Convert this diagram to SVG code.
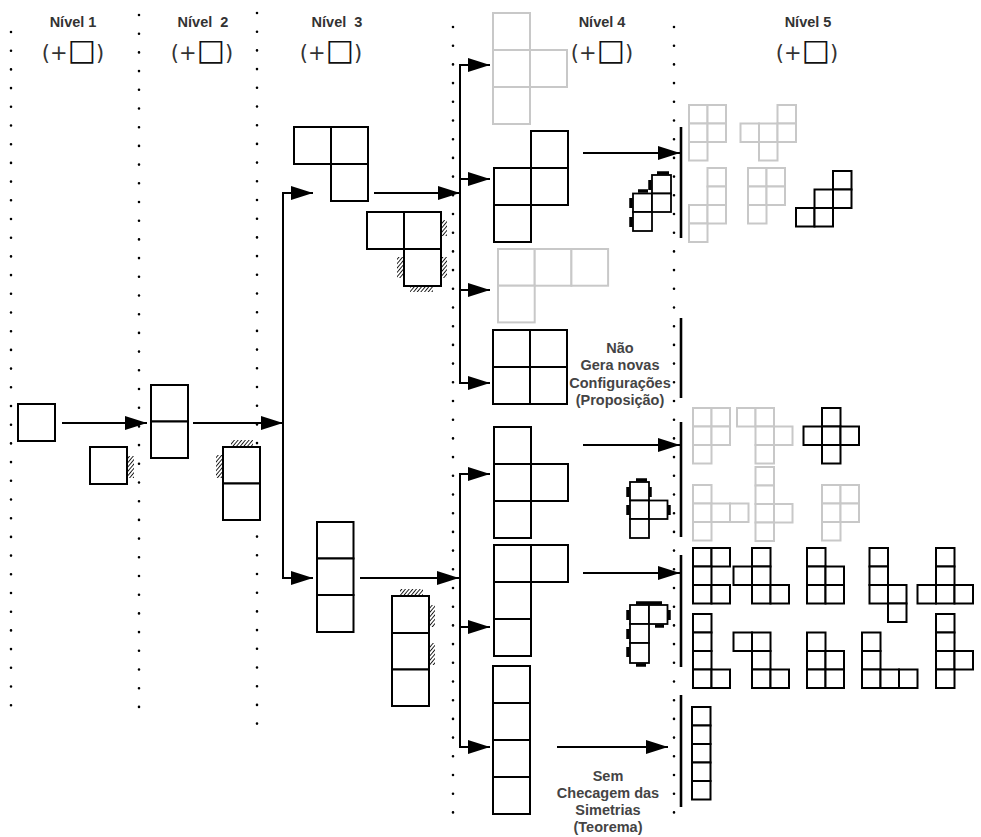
<svg xmlns="http://www.w3.org/2000/svg" width="981" height="837" viewBox="0 0 981 837">
<defs>
<style>
.dot{stroke:#000;stroke-width:2.6;stroke-linecap:round;stroke-dasharray:0 18.7;fill:none}
.c{fill:#fff;stroke:#000;stroke-width:2}
.g{fill:#fff;stroke:#c8c8c8;stroke-width:2}
.s{fill:#fff;stroke:#000;stroke-width:1.8}
.ln{stroke:#000;stroke-width:2;fill:none}
.bar{stroke:#000;stroke-width:2.6;fill:none}
.hd{font-family:"Liberation Sans",Arial,sans-serif;font-weight:bold;font-size:14.5px;fill:#333;text-anchor:middle}
.pl{font-family:"DejaVu Sans",sans-serif;font-size:21px;fill:#333;text-anchor:middle}
.bx{font-size:30px;fill:#111}
.nt{font-family:"Liberation Sans",Arial,sans-serif;font-weight:bold;font-size:14.5px;fill:#444;text-anchor:middle}
.hk{fill:url(#hatch)}
.mk{stroke:#000;stroke-width:3.5;fill:none}
</style>
<pattern id="hatch" patternUnits="userSpaceOnUse" width="2.8" height="2.8" patternTransform="rotate(40)">
<line x1="0" y1="0" x2="0" y2="2.8" stroke="#000" stroke-width="1.7"/>
</pattern>
<marker id="ah" markerUnits="userSpaceOnUse" markerWidth="24" markerHeight="16" refX="22" refY="7" orient="auto">
<path d="M0,0 L22,7 L0,14 Z" fill="#000"/>
</marker>
</defs>

<g id="guides">
<line class="dot" x1="11" y1="32" x2="11" y2="722"/>
<line class="dot" x1="139" y1="15" x2="139" y2="725"/>
<line class="dot" x1="257" y1="13" x2="257" y2="725"/>
<line class="dot" x1="453" y1="27" x2="453" y2="815"/>
<line class="dot" x1="674" y1="27" x2="674" y2="820"/>
</g>

<g id="headers">
<text class="hd" x="73" y="27">Nível 1</text>
<text class="hd" x="203" y="27" xml:space="preserve">Nível  2</text>
<text class="hd" x="337" y="27" xml:space="preserve">Nível  3</text>
<text class="hd" x="602" y="27">Nível 4</text>
<text class="hd" x="808" y="27">Nível 5</text>
<text class="pl" x="73" y="60">(+<tspan class="bx">□</tspan>)</text>
<text class="pl" x="202" y="60">(+<tspan class="bx">□</tspan>)</text>
<text class="pl" x="331" y="60">(+<tspan class="bx">□</tspan>)</text>
<text class="pl" x="602" y="60">(+<tspan class="bx">□</tspan>)</text>
<text class="pl" x="807" y="60">(+<tspan class="bx">□</tspan>)</text>
</g>

<g id="connectors">
<line class="ln" x1="62" y1="423" x2="147" y2="423" marker-end="url(#ah)"/>
<line class="ln" x1="193" y1="423" x2="283" y2="423" marker-end="url(#ah)"/>
<polyline class="ln" points="313,193 283,193 283,578 313,578"/>
<line class="ln" x1="283" y1="193" x2="313" y2="193" marker-end="url(#ah)"/>
<line class="ln" x1="283" y1="578" x2="313" y2="578" marker-end="url(#ah)"/>
<line class="ln" x1="374" y1="193" x2="460" y2="193" marker-end="url(#ah)"/>
<line class="ln" x1="360" y1="578" x2="459" y2="578" marker-end="url(#ah)"/>
<line class="ln" x1="460" y1="65" x2="460" y2="384"/>
<line class="ln" x1="459" y1="65" x2="490" y2="65" marker-end="url(#ah)"/>
<line class="ln" x1="459" y1="179" x2="490" y2="179" marker-end="url(#ah)"/>
<line class="ln" x1="459" y1="290" x2="490" y2="290" marker-end="url(#ah)"/>
<line class="ln" x1="459" y1="383" x2="490" y2="383" marker-end="url(#ah)"/>
<line class="ln" x1="460" y1="474" x2="460" y2="748"/>
<line class="ln" x1="459" y1="474" x2="490" y2="474" marker-end="url(#ah)"/>
<line class="ln" x1="459" y1="627" x2="490" y2="627" marker-end="url(#ah)"/>
<line class="ln" x1="459" y1="747" x2="490" y2="747" marker-end="url(#ah)"/>
<line class="ln" x1="583" y1="153" x2="680" y2="153" marker-end="url(#ah)"/>
<line class="ln" x1="583" y1="445" x2="680" y2="445" marker-end="url(#ah)"/>
<line class="ln" x1="583" y1="573" x2="680" y2="573" marker-end="url(#ah)"/>
<line class="ln" x1="557" y1="747" x2="668" y2="747" marker-end="url(#ah)"/>
<line class="bar" x1="681" y1="127" x2="681" y2="238"/>
<line class="bar" x1="681" y1="318" x2="681" y2="398"/>
<line class="bar" x1="681" y1="422" x2="681" y2="537"/>
<line class="bar" x1="681" y1="555" x2="681" y2="667"/>
<line class="bar" x1="681" y1="695" x2="681" y2="807"/>
</g>

<g id="n1">
<rect class="c" x="18" y="404" width="37" height="37"/>
</g>
<g id="n1h">
<rect class="hk" x="127" y="456" width="7" height="22"/>
<rect class="c" x="90" y="447" width="37" height="37"/>
</g>

<g id="n2">
<rect class="c" x="151" y="385" width="37" height="36.5"/>
<rect class="c" x="151" y="421.5" width="37" height="36.5"/>
</g>
<g id="n2h">
<rect class="hk" x="231" y="440" width="22" height="7"/>
<rect class="hk" x="216" y="455" width="7" height="23"/>
<rect class="c" x="223" y="447" width="37" height="36.5"/>
<rect class="c" x="223" y="483.5" width="37" height="36.5"/>
</g>

<g id="n3a">
<rect class="c" x="294" y="127" width="37" height="37"/>
<rect class="c" x="331" y="127" width="37" height="37"/>
<rect class="c" x="331" y="164" width="37" height="37"/>
</g>
<g id="n3ah">
<rect class="hk" x="441" y="220" width="6" height="16"/>
<rect class="hk" x="397" y="257" width="7" height="21"/>
<rect class="hk" x="441" y="257" width="6" height="21"/>
<rect class="hk" x="410" y="286" width="23" height="6"/>
<rect class="c" x="367" y="212" width="37" height="37"/>
<rect class="c" x="404" y="212" width="37" height="37"/>
<rect class="c" x="404" y="249" width="37" height="37"/>
</g>

<g id="n3b">
<rect class="c" x="317" y="522" width="36.5" height="36.5"/>
<rect class="c" x="317" y="558.5" width="36.5" height="36.5"/>
<rect class="c" x="317" y="595" width="36.5" height="37"/>
</g>
<g id="n3bh">
<rect class="hk" x="400" y="589" width="23" height="7"/>
<rect class="hk" x="429" y="605" width="6" height="22"/>
<rect class="hk" x="429" y="643" width="6" height="22"/>
<rect class="c" x="392" y="596" width="37" height="37"/>
<rect class="c" x="392" y="633" width="37" height="36.5"/>
<rect class="c" x="392" y="669.5" width="37" height="36.5"/>
</g>

<g id="n4a">
<rect class="g" x="493" y="13" width="37" height="37"/>
<rect class="g" x="493" y="50" width="37" height="37"/>
<rect class="g" x="530" y="50" width="37" height="37"/>
<rect class="g" x="493" y="87" width="37" height="37"/>
</g>
<g id="n4b">
<rect class="c" x="531" y="131" width="37" height="37"/>
<rect class="c" x="494" y="168" width="37" height="37"/>
<rect class="c" x="531" y="168" width="37" height="37"/>
<rect class="c" x="494" y="205" width="37" height="37"/>
</g>
<g id="n4c">
<rect class="g" x="498" y="249" width="36.7" height="36.7"/>
<rect class="g" x="534.7" y="249" width="36.7" height="36.7"/>
<rect class="g" x="571.4" y="249" width="36.7" height="36.7"/>
<rect class="g" x="498" y="285.7" width="36.7" height="36.7"/>
</g>
<g id="n4d">
<rect class="c" x="493" y="330" width="37" height="37"/>
<rect class="c" x="530" y="330" width="37" height="37"/>
<rect class="c" x="493" y="367" width="37" height="37"/>
<rect class="c" x="530" y="367" width="37" height="37"/>
</g>
<g id="n4e">
<rect class="c" x="494" y="427" width="37" height="37"/>
<rect class="c" x="494" y="464" width="37" height="37"/>
<rect class="c" x="531" y="464" width="37" height="37"/>
<rect class="c" x="494" y="501" width="37" height="37"/>
</g>
<g id="n4f">
<rect class="c" x="494" y="545" width="37" height="37"/>
<rect class="c" x="531" y="545" width="37" height="37"/>
<rect class="c" x="494" y="582" width="37" height="37"/>
<rect class="c" x="494" y="619" width="37" height="37"/>
</g>
<g id="n4g">
<rect class="c" x="493" y="666" width="37" height="37"/>
<rect class="c" x="493" y="703" width="37" height="37"/>
<rect class="c" x="493" y="740" width="37" height="37"/>
<rect class="c" x="493" y="777" width="37" height="37"/>
</g>

<g id="h4b">
<path class="mk" d="M657,173 H669 M650,180 V190 M638,191 H648 M631,198 V208 M631,217 V227"/>
<rect class="s" x="652" y="175" width="19" height="18.5"/>
<rect class="s" x="633" y="193.5" width="19" height="18.5"/>
<rect class="s" x="652" y="193.5" width="19" height="18.5"/>
<rect class="s" x="633" y="212" width="19" height="19"/>
</g>
<g id="h4e">
<path class="mk" d="M636,480 H647 M628,487 V497 M650,487 V497 M669,505 V515 M628,505 V515"/>
<rect class="s" x="630" y="482" width="19" height="18.5"/>
<rect class="s" x="630" y="500.5" width="19" height="18.5"/>
<rect class="s" x="649" y="500.5" width="18.5" height="18.5"/>
<rect class="s" x="630" y="519" width="19" height="19"/>
</g>
<g id="h4f">
<path class="mk" d="M636,603 H662 M628,610 V620 M669,610 V620 M655,626 H664 M628,629 V639 M628,647 V657 M636,665 H646"/>
<rect class="s" x="630" y="605" width="19" height="19"/>
<rect class="s" x="649" y="605" width="18.5" height="19"/>
<rect class="s" x="630" y="624" width="19" height="19"/>
<rect class="s" x="630" y="643" width="19" height="20"/>
</g>

<g id="t1">
<text class="nt" x="620" y="353">Não</text>
<text class="nt" x="620" y="370">Gera novas</text>
<text class="nt" x="620" y="388">Configurações</text>
<text class="nt" x="620" y="405">(Proposição)</text>
</g>
<g id="t2">
<text class="nt" x="608" y="781">Sem</text>
<text class="nt" x="608" y="798">Checagem das</text>
<text class="nt" x="608" y="815">Simetrias</text>
<text class="nt" x="608" y="832">(Teorema)</text>
</g>

<g id="p1">
<rect class="g" x="689" y="105" width="18.5" height="18.5"/><rect class="g" x="707.5" y="105" width="18.5" height="18.5"/>
<rect class="g" x="689" y="123.5" width="18.5" height="18.5"/><rect class="g" x="707.5" y="123.5" width="18.5" height="18.5"/>
<rect class="g" x="689" y="142" width="18.5" height="18.5"/>
</g>
<g id="p2">
<rect class="g" x="777.5" y="105" width="18.5" height="18.5"/>
<rect class="g" x="740.5" y="123.5" width="18.5" height="18.5"/><rect class="g" x="759" y="123.5" width="18.5" height="18.5"/><rect class="g" x="777.5" y="123.5" width="18.5" height="18.5"/>
<rect class="g" x="759" y="142" width="18.5" height="18.5"/>
</g>
<g id="p3">
<rect class="g" x="707.5" y="168" width="18.5" height="18.5"/>
<rect class="g" x="707.5" y="186.5" width="18.5" height="18.5"/>
<rect class="g" x="689" y="205" width="18.5" height="18.5"/><rect class="g" x="707.5" y="205" width="18.5" height="18.5"/>
<rect class="g" x="689" y="223.5" width="18.5" height="18.5"/>
</g>
<g id="p4">
<rect class="g" x="748" y="168" width="18.5" height="18.5"/><rect class="g" x="766.5" y="168" width="18.5" height="18.5"/>
<rect class="g" x="748" y="186.5" width="18.5" height="18.5"/><rect class="g" x="766.5" y="186.5" width="18.5" height="18.5"/>
<rect class="g" x="748" y="205" width="18.5" height="18.5"/>
</g>
<g id="p5">
<rect class="c" x="833" y="171" width="18.5" height="18.5"/>
<rect class="c" x="814.5" y="189.5" width="18.5" height="18.5"/><rect class="c" x="833" y="189.5" width="18.5" height="18.5"/>
<rect class="c" x="796" y="208" width="18.5" height="18.5"/><rect class="c" x="814.5" y="208" width="18.5" height="18.5"/>
</g>

<g id="p6">
<rect class="g" x="693" y="408" width="18.5" height="18.5"/><rect class="g" x="711.5" y="408" width="18.5" height="18.5"/>
<rect class="g" x="693" y="426.5" width="18.5" height="18.5"/><rect class="g" x="711.5" y="426.5" width="18.5" height="18.5"/>
<rect class="g" x="693" y="445" width="18.5" height="18.5"/>
</g>
<g id="p7">
<rect class="g" x="737" y="408" width="18.5" height="18.5"/><rect class="g" x="755.5" y="408" width="18.5" height="18.5"/>
<rect class="g" x="755.5" y="426.5" width="18.5" height="18.5"/><rect class="g" x="774" y="426.5" width="18.5" height="18.5"/>
<rect class="g" x="755.5" y="445" width="18.5" height="18.5"/>
</g>
<g id="p8">
<rect class="c" x="822" y="408" width="18.5" height="18.5"/>
<rect class="c" x="803.5" y="426.5" width="18.5" height="18.5"/><rect class="c" x="822" y="426.5" width="18.5" height="18.5"/><rect class="c" x="840.5" y="426.5" width="18.5" height="18.5"/>
<rect class="c" x="822" y="445" width="18.5" height="18.5"/>
</g>
<g id="p9">
<rect class="g" x="693" y="485" width="18.5" height="18.5"/>
<rect class="g" x="693" y="503.5" width="18.5" height="18.5"/><rect class="g" x="711.5" y="503.5" width="18.5" height="18.5"/><rect class="g" x="730" y="503.5" width="18.5" height="18.5"/>
<rect class="g" x="693" y="522" width="18.5" height="18.5"/>
</g>
<g id="p10">
<rect class="g" x="755.5" y="467" width="18.5" height="18.5"/>
<rect class="g" x="755.5" y="485.5" width="18.5" height="18.5"/>
<rect class="g" x="755.5" y="504" width="18.5" height="18.5"/><rect class="g" x="774" y="504" width="18.5" height="18.5"/>
<rect class="g" x="755.5" y="522.5" width="18.5" height="18.5"/>
</g>
<g id="p11">
<rect class="g" x="822" y="485" width="18.5" height="18.5"/><rect class="g" x="840.5" y="485" width="18.5" height="18.5"/>
<rect class="g" x="822" y="503.5" width="18.5" height="18.5"/><rect class="g" x="840.5" y="503.5" width="18.5" height="18.5"/>
<rect class="g" x="822" y="522" width="18.5" height="18.5"/>
</g>

<g id="p12">
<rect class="c" x="693" y="548" width="18.5" height="18.5"/><rect class="c" x="711.5" y="548" width="18.5" height="18.5"/>
<rect class="c" x="693" y="566.5" width="18.5" height="18.5"/>
<rect class="c" x="693" y="585" width="18.5" height="18.5"/><rect class="c" x="711.5" y="585" width="18.5" height="18.5"/>
</g>
<g id="p13">
<rect class="c" x="752" y="548" width="18.5" height="18.5"/>
<rect class="c" x="733.5" y="566.5" width="18.5" height="18.5"/><rect class="c" x="752" y="566.5" width="18.5" height="18.5"/>
<rect class="c" x="752" y="585" width="18.5" height="18.5"/><rect class="c" x="770.5" y="585" width="18.5" height="18.5"/>
</g>
<g id="p14">
<rect class="c" x="807" y="548" width="18.5" height="18.5"/>
<rect class="c" x="807" y="566.5" width="18.5" height="18.5"/><rect class="c" x="825.5" y="566.5" width="18.5" height="18.5"/>
<rect class="c" x="807" y="585" width="18.5" height="18.5"/><rect class="c" x="825.5" y="585" width="18.5" height="18.5"/>
</g>
<g id="p15">
<rect class="c" x="869.5" y="548" width="18.5" height="18.5"/>
<rect class="c" x="869.5" y="566.5" width="18.5" height="18.5"/>
<rect class="c" x="869.5" y="585" width="18.5" height="18.5"/><rect class="c" x="888" y="585" width="18.5" height="18.5"/>
<rect class="c" x="888" y="603.5" width="18.5" height="18.5"/>
</g>
<g id="p16">
<rect class="c" x="936" y="548" width="18.5" height="18.5"/>
<rect class="c" x="936" y="566.5" width="18.5" height="18.5"/>
<rect class="c" x="917.5" y="585" width="18.5" height="18.5"/><rect class="c" x="936" y="585" width="18.5" height="18.5"/><rect class="c" x="954.5" y="585" width="18.5" height="18.5"/>
</g>
<g id="p17">
<rect class="c" x="693" y="614" width="18.5" height="18.5"/>
<rect class="c" x="693" y="632.5" width="18.5" height="18.5"/>
<rect class="c" x="693" y="651" width="18.5" height="18.5"/>
<rect class="c" x="693" y="669.5" width="18.5" height="18.5"/><rect class="c" x="711.5" y="669.5" width="18.5" height="18.5"/>
</g>
<g id="p18">
<rect class="c" x="733.5" y="632.5" width="18.5" height="18.5"/><rect class="c" x="752" y="632.5" width="18.5" height="18.5"/>
<rect class="c" x="752" y="651" width="18.5" height="18.5"/>
<rect class="c" x="752" y="669.5" width="18.5" height="18.5"/><rect class="c" x="770.5" y="669.5" width="18.5" height="18.5"/>
</g>
<g id="p19">
<rect class="c" x="807" y="632.5" width="18.5" height="18.5"/>
<rect class="c" x="807" y="651" width="18.5" height="18.5"/><rect class="c" x="825.5" y="651" width="18.5" height="18.5"/>
<rect class="c" x="807" y="669.5" width="18.5" height="18.5"/><rect class="c" x="825.5" y="669.5" width="18.5" height="18.5"/>
</g>
<g id="p20">
<rect class="c" x="862" y="632.5" width="18.5" height="18.5"/>
<rect class="c" x="862" y="651" width="18.5" height="18.5"/>
<rect class="c" x="862" y="669.5" width="18.5" height="18.5"/><rect class="c" x="880.5" y="669.5" width="18.5" height="18.5"/><rect class="c" x="899" y="669.5" width="18.5" height="18.5"/>
</g>
<g id="p21">
<rect class="c" x="936" y="614" width="18.5" height="18.5"/>
<rect class="c" x="936" y="632.5" width="18.5" height="18.5"/>
<rect class="c" x="936" y="651" width="18.5" height="18.5"/><rect class="c" x="954.5" y="651" width="18.5" height="18.5"/>
<rect class="c" x="936" y="669.5" width="18.5" height="18.5"/>
</g>
<g id="p22">
<rect class="c" x="692" y="707" width="18.5" height="18.5"/>
<rect class="c" x="692" y="725.5" width="18.5" height="18.5"/>
<rect class="c" x="692" y="744" width="18.5" height="18.5"/>
<rect class="c" x="692" y="762.5" width="18.5" height="18.5"/>
<rect class="c" x="692" y="781" width="18.5" height="18.5"/>
</g>
</svg>
